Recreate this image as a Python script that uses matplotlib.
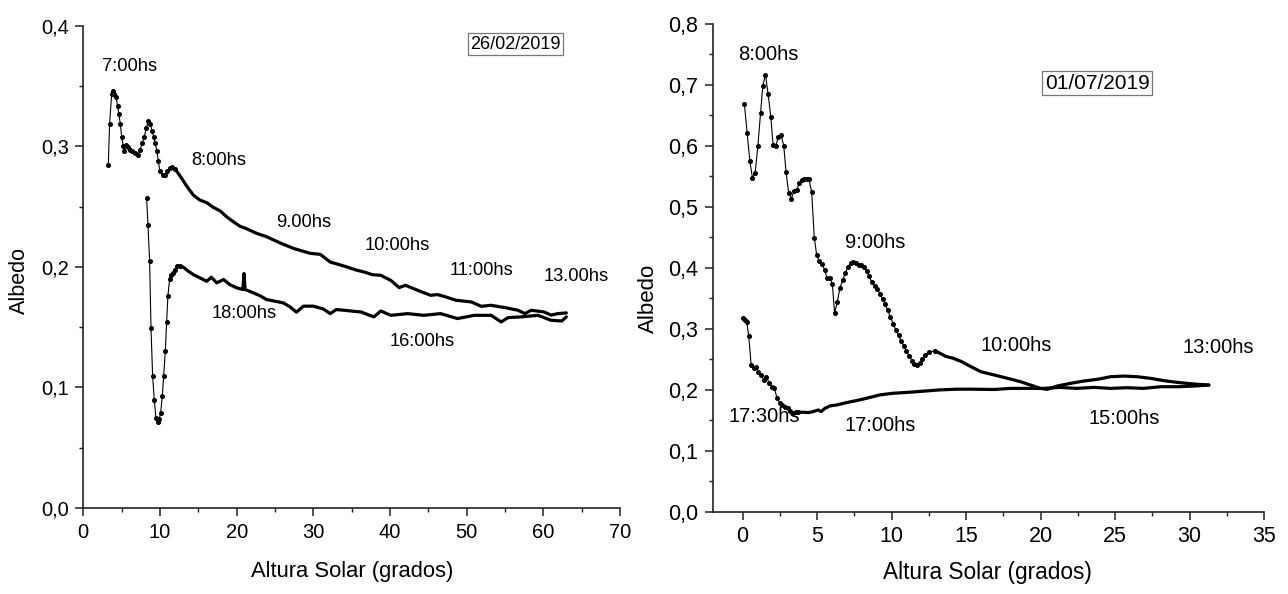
import matplotlib
matplotlib.use("Agg")
import matplotlib.pyplot as plt
from matplotlib.ticker import MultipleLocator, FuncFormatter

plt.rcParams['font.family'] = ['Liberation Sans', 'DejaVu Sans']

# ---------------- data: 26/02/2019 (left) ----------------
left_morning_x = [3.26, 3.43, 3.70, 3.83, 4.04, 4.26, 4.48, 4.65, 4.83, 5.0, 5.22, 5.35, 5.57, 5.83,
                  6.09, 6.39, 6.74, 7.09, 7.39, 7.70, 7.96, 8.22, 8.48, 8.74, 8.96, 9.17, 9.39, 9.61,
                  9.78, 10.0, 10.35, 10.7, 10.96, 11.3, 11.6,
                  11.96, 12.39, 12.83, 13.26, 13.7, 14.35, 15.2, 16.1, 16.96, 17.83, 18.7, 19.57,
                  20.4, 21.3, 22.6, 23.9, 25.6, 27.4, 29.6, 30.9, 32.2, 33.3, 34.4, 35.5, 36.6,
                  37.7, 38.8, 40.1, 41.2, 42.0, 43.6, 45.3, 46.2, 47.3, 48.6, 50.6, 51.9, 53.2,
                  55.0, 56.7, 57.6, 58.4, 60.1, 61.0, 61.9, 63.0]
left_morning_y = [0.2847, 0.3186, 0.3434, 0.3462, 0.3432, 0.3412, 0.333, 0.3266, 0.3186, 0.3081,
                  0.2999, 0.2957, 0.301, 0.299, 0.2971, 0.2957, 0.2943, 0.2924, 0.2971, 0.3026,
                  0.3081, 0.315, 0.3206, 0.3186, 0.3128, 0.3081, 0.3026, 0.2957, 0.2874, 0.2792,
                  0.2759, 0.2759, 0.2792, 0.282, 0.2828,
                  0.2811, 0.2775, 0.2734, 0.2692, 0.2651, 0.2595, 0.2554, 0.2532, 0.2493, 0.2465,
                  0.2415, 0.2374, 0.2338, 0.2316, 0.2278, 0.225, 0.22, 0.2153, 0.2112, 0.2104,
                  0.204, 0.202, 0.1999, 0.1975, 0.1958, 0.1935, 0.193, 0.1888, 0.1828, 0.1847,
                  0.1806, 0.1764, 0.177, 0.175, 0.1723, 0.1709, 0.1673, 0.1681, 0.1662, 0.164,
                  0.1612, 0.164, 0.1626, 0.160, 0.1612, 0.1618]
left_morning_sparse_n = 36

left_afternoon_x = [8.26, 8.43, 8.65, 8.83, 9.04, 9.26, 9.48, 9.7, 9.91, 10.09, 10.3, 10.48, 10.7,
                    10.87, 11.04, 11.26, 11.48, 11.74, 12.0, 12.26,
                    12.6, 13.04, 13.7, 14.35, 15.2, 16.1, 16.7, 17.4, 18.3, 19.1, 20.0, 20.8, 20.96,
                    21.1, 21.96, 23.0, 23.9, 25.0, 26.1, 26.96, 27.8, 28.7, 30.0, 31.3, 32.2, 33.0,
                    34.0, 35.2, 36.2, 37.9, 38.8, 40.1, 42.3, 44.4, 46.6, 48.8, 51.0, 53.2, 54.5,
                    55.4, 57.1, 59.3, 61.0, 62.4, 63.0]
left_afternoon_y = [0.2567, 0.2351, 0.2047, 0.1494, 0.1098, 0.0894, 0.0747, 0.0711, 0.0739, 0.0788,
                    0.0927, 0.1093, 0.1306, 0.1544, 0.1762, 0.19, 0.1936, 0.1945, 0.1972, 0.2006,
                    0.2006, 0.1997, 0.1964, 0.1936, 0.1909, 0.188, 0.1914, 0.1867, 0.1895, 0.1853,
                    0.1826, 0.1812, 0.1945, 0.1812, 0.179, 0.1762, 0.1729, 0.1715, 0.1701, 0.1668,
                    0.1624, 0.1674, 0.1674, 0.1651, 0.1612, 0.1646, 0.164, 0.1632, 0.1626, 0.1585,
                    0.1634, 0.1598, 0.1612, 0.1598, 0.1612, 0.1571, 0.1598, 0.1598, 0.1543, 0.1579,
                    0.1585, 0.1598, 0.1557, 0.1551, 0.1585]
left_afternoon_sparse_n = 21

left_labels = ["7:00hs", "8:00hs", "9.00hs", "10:00hs", "11:00hs", "13.00hs", "18:00hs", "16:00hs"]
left_label_x = [5.97, 17.7, 28.8, 41.0, 52.0, 64.3, 21.0, 44.2]
left_label_y = [0.366, 0.2886, 0.2366, 0.2175, 0.197, 0.192, 0.1614, 0.138]
left_date = "26/02/2019"

# ---------------- data: 01/07/2019 (right) ----------------
right_morning_x = [0.13, 0.31, 0.49, 0.67, 0.85, 1.03, 1.21, 1.36, 1.54, 1.72, 1.90, 2.05, 2.23,
                   2.41, 2.59, 2.77, 2.92, 3.10, 3.28, 3.46, 3.64, 3.82, 3.97, 4.13, 4.31, 4.46,
                   4.64, 4.82, 4.98, 5.16, 5.33, 5.51, 5.67, 5.85, 6.03, 6.18, 6.36, 6.54, 6.72,
                   6.90, 7.08, 7.25, 7.43, 7.61, 7.79, 7.97, 8.15, 8.33, 8.50, 8.68, 8.86, 9.04,
                   9.22, 9.40, 9.58, 9.75, 9.93, 10.11, 10.29, 10.47, 10.65, 10.83, 11.0, 11.18,
                   11.36, 11.54, 11.72, 11.9, 12.08, 12.26, 12.5,
                   12.9, 13.24, 13.68, 14.13, 14.69, 15.34, 16.0, 16.9, 17.8, 18.66, 19.33, 20.0,
                   20.45, 21.1, 22.0, 22.9, 23.8, 24.7, 25.6, 26.5, 27.4, 28.3, 29.2, 30.3, 31.3]
right_morning_y = [0.668, 0.6215, 0.5755, 0.5475, 0.5563, 0.5996, 0.6532, 0.6981, 0.7168, 0.685,
                   0.6478, 0.6023, 0.5996, 0.6149, 0.6176, 0.6001, 0.5574, 0.5229, 0.5136, 0.5262,
                   0.5284, 0.5393, 0.5448, 0.5453, 0.5453, 0.5453, 0.5245, 0.4495, 0.4205, 0.4112,
                   0.4068, 0.397, 0.3838, 0.3838, 0.3739, 0.3258, 0.3438, 0.3674, 0.3794, 0.3915,
                   0.4013, 0.4084, 0.4095, 0.4079, 0.4051, 0.404, 0.4013, 0.3947, 0.386, 0.3767,
                   0.3701, 0.3657, 0.3575, 0.3493, 0.34, 0.3302, 0.3192, 0.3082, 0.2984, 0.2891,
                   0.280, 0.272, 0.264, 0.256, 0.248, 0.242, 0.240, 0.2436, 0.251, 0.257, 0.262,
                   0.2638, 0.26, 0.2545, 0.2518, 0.2463, 0.2378, 0.2296, 0.2242, 0.2187, 0.2132,
                   0.2078, 0.2023, 0.2007, 0.2061, 0.2105, 0.2143, 0.2171, 0.2214, 0.2225, 0.2214,
                   0.2187, 0.2149, 0.2121, 0.2094, 0.2078]
right_morning_sparse_n = 72

right_afternoon_x = [0.04, 0.18, 0.29, 0.42, 0.58, 0.74, 0.92, 1.07, 1.25, 1.43, 1.61, 1.79, 1.96,
                     2.14, 2.32, 2.50, 2.68, 2.86, 3.04, 3.21, 3.39, 3.57,
                     3.75, 4.08, 4.42, 4.75, 5.09, 5.27, 5.54, 5.87, 6.32, 6.99, 7.66, 8.33, 9.22,
                     10.11, 11.23, 12.34, 13.24, 14.35, 15.13, 16.9, 18.0, 19.1, 20.2, 21.3, 22.4,
                     23.6, 24.7, 25.8, 26.9, 28.07, 29.2, 30.3, 31.3]
right_afternoon_y = [0.3185, 0.3147, 0.3109, 0.2874, 0.2408, 0.2354, 0.2381, 0.2299, 0.2244, 0.2162,
                     0.2217, 0.2107, 0.2042, 0.2025, 0.1861, 0.179, 0.1751, 0.1724, 0.1697, 0.1658,
                     0.1626, 0.1642,
                     0.1631, 0.1631, 0.1626, 0.1642, 0.1669, 0.1642, 0.1697, 0.1735, 0.1751, 0.179,
                     0.1823, 0.1861, 0.1916, 0.1943, 0.196, 0.1981, 0.1998, 0.2009, 0.201, 0.2005,
                     0.2023, 0.2023, 0.2023, 0.2039, 0.2023, 0.2039, 0.2023, 0.2034, 0.2023, 0.205,
                     0.205, 0.2061, 0.2078]
right_afternoon_sparse_n = 23

right_labels = ["8:00hs", "9:00hs", "10:00hs", "13:00hs", "15:00hs", "17:00hs", "17:30hs"]
right_label_x = [1.73, 8.92, 18.38, 31.93, 25.63, 9.22, 1.45]
right_label_y = [0.75, 0.4416, 0.273, 0.2697, 0.153, 0.142, 0.156]
right_date = "01/07/2019"

# ---------------- figure ----------------
W, H = 1288, 594
fig = plt.figure(figsize=(W / 100, H / 100), dpi=100)
ax1 = fig.add_axes([83.3 / W, 1 - 508 / H, (620 - 83.3) / W, (508 - 25.7) / H])
ax2 = fig.add_axes([712.7 / W, 1 - 511.7 / H, (1264 - 712.7) / W, (511.7 - 24) / H])

comma = FuncFormatter(lambda v, p: f"{v:.1f}".replace('.', ','))


def draw_series(ax, xs, ys, n_sparse, ms):
    ax.plot(xs[:n_sparse], ys[:n_sparse], color='black', lw=0.8, marker='o', ms=ms,
            mec='black', mfc='black', zorder=3)
    ax.plot(xs[n_sparse - 1:], ys[n_sparse - 1:], color='black', lw=2.3,
            solid_joinstyle='round', solid_capstyle='round', zorder=3)


def style(ax, xlim, ylim, xmaj, xmin_, ymaj, ymin_, fs):
    ax.set_xlim(*xlim)
    ax.set_ylim(*ylim)
    for s in ('top', 'right'):
        ax.spines[s].set_visible(False)
    for s in ('left', 'bottom'):
        ax.spines[s].set_linewidth(1.2)
        ax.spines[s].set_color('#222222')
    ax.xaxis.set_major_locator(MultipleLocator(xmaj))
    ax.xaxis.set_minor_locator(MultipleLocator(xmin_))
    ax.yaxis.set_major_locator(MultipleLocator(ymaj))
    ax.yaxis.set_minor_locator(MultipleLocator(ymin_))
    ax.yaxis.set_major_formatter(comma)
    ax.tick_params(which='major', direction='out', length=5.5, width=1.1, labelsize=fs,
                   pad=5, color='#222222')
    ax.tick_params(which='minor', direction='out', length=3, width=1.0, color='#222222')
    ax.patch.set_visible(False)


# left panel
draw_series(ax1, left_morning_x, left_morning_y, left_morning_sparse_n, 2.6)
draw_series(ax1, left_afternoon_x, left_afternoon_y, left_afternoon_sparse_n, 2.6)
style(ax1, (0, 70), (0, 0.4), 10, 5, 0.1, 0.05, 14.5)
for t, x, y in zip(left_labels, left_label_x, left_label_y):
    ax1.text(x, y, t, ha='center', va='center', fontsize=13.2)
ax1.text(56.4, 0.3847, left_date, ha='center', va='center', fontsize=13,
         bbox=dict(boxstyle='square,pad=0.12', fc='white', ec='#777777', lw=0.9))

# right panel
draw_series(ax2, right_morning_x, right_morning_y, right_morning_sparse_n, 2.6)
draw_series(ax2, right_afternoon_x, right_afternoon_y, right_afternoon_sparse_n, 2.6)
style(ax2, (-2, 35), (0, 0.8), 5, 2.5, 0.1, 0.05, 15.5)
for t, x, y in zip(right_labels, right_label_x, right_label_y):
    ax2.text(x, y, t, ha='center', va='center', fontsize=14.5)
ax2.text(23.8, 0.703, right_date, ha='center', va='center', fontsize=15,
         bbox=dict(boxstyle='square,pad=0.12', fc='white', ec='#777777', lw=0.9))

# axis titles
fig.text(19 / W, 1 - 280 / H, "Albedo", rotation=90, ha='center', va='center', fontsize=15.5)
fig.text(351.7 / W, 1 - 571.7 / H, "Altura Solar (grados)", ha='center', va='center', fontsize=15.8)
fig.text(648 / W, 1 - 298 / H, "Albedo", rotation=90, ha='center', va='center', fontsize=16)
fig.text(987.5 / W, 1 - 573 / H, "Altura Solar (grados)", ha='center', va='center', fontsize=16.3)

fig.savefig("out.png", dpi=100, facecolor='white')
